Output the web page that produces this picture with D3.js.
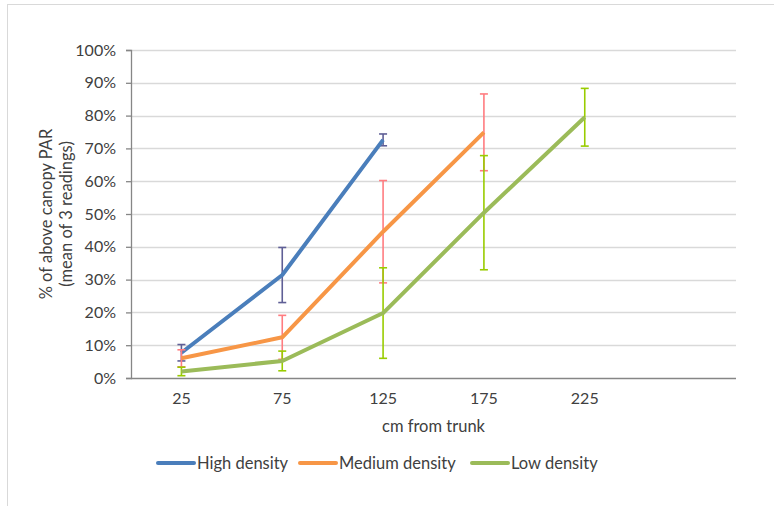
<!DOCTYPE html>
<html>
<head>
<meta charset="utf-8">
<script src="https://cdn.jsdelivr.net/npm/d3@7"></script>
<style>
  body { margin: 0; background: #fff; }
  svg text { font-family: Lato, "Open Sans", sans-serif; fill: #404040; }
</style>
</head>
<body>
<svg id="chart" width="774" height="506"></svg>
<script>
// Chart values (percent)
const categories = ['25', '75', '125', '175', '225', '']
const seriesNames = ['High density', 'Medium density', 'Low density']
const highValues = [7.7, 31.4, 72.6]
const highErrors = [2.5, 8.4, 1.8]
const mediumValues = [6.0, 12.4, 44.6, 74.9]
const mediumErrors = [2.6, 6.7, 15.6, 11.7]
const lowValues = [2.0, 5.2, 19.8, 50.4, 79.5]
const lowErrors = [1.3, 3.0, 13.8, 17.4, 8.8]
const yTicks = [0, 10, 20, 30, 40, 50, 60, 70, 80, 90, 100]

const lineColors = ['#4a7ebb', '#f79646', '#9bbb59']
const errorColors = ['#5f5f96', '#ff7c80', '#99cc00']

const margin = { top: 50, left: 131, right: 38, bottom: 128 }
const width = 774 - margin.left - margin.right
const height = 506 - margin.top - margin.bottom

const svg = d3.select('#chart')

// chart area border (only the top and left edges fall inside the picture)
svg.append('rect')
  .attr('x', 7.5).attr('y', 4.5)
  .attr('width', 900).attr('height', 700)
  .attr('fill', 'none').attr('stroke', '#d9d9d9')

const g = svg.append('g')
  .attr('transform', 'translate(' + margin.left + ',' + margin.top + ')')

const xScale = d3.scaleBand().domain(categories).range([0, width])
const yScale = d3.scaleLinear().domain([0, 100]).range([height, 0])

// horizontal gridlines
g.append('g').selectAll('line')
  .data(yTicks.slice(1))
  .enter().append('line')
  .attr('x1', 0).attr('x2', width)
  .attr('y1', (d) => Math.round(yScale(d)) + 0.5)
  .attr('y2', (d) => Math.round(yScale(d)) + 0.5)
  .attr('stroke', '#d9d9d9').attr('stroke-width', 1.3)

// y axis
const yAxis = g.append('g').attr('class', 'y axis')
  .call(d3.axisLeft(yScale).tickValues(yTicks).tickSize(5).tickPadding(10)
    .tickFormat((d) => d + '%'))
yAxis.selectAll('text').style('font-size', '16px')

// x axis
const xAxis = g.append('g').attr('class', 'x axis')
  .attr('transform', 'translate(0,' + height + ')')
  .call(d3.axisBottom(xScale).tickSize(0).tickPadding(15))
xAxis.selectAll('text').style('font-size', '16px')

g.selectAll('.axis path, .axis line').attr('stroke', '#868686').attr('stroke-width', 1.3)
g.select('.x.axis .domain').attr('d', 'M0,0.5H' + width)

// axis titles
svg.append('text')
  .attr('x', margin.left + width / 2).attr('y', 432)
  .attr('text-anchor', 'middle')
  .style('font-size', '16.5px')
  .text('cm from trunk')

const yTitle = svg.append('text')
  .attr('transform', 'translate(52,' + (margin.top + height / 2) + ') rotate(-90)')
  .attr('text-anchor', 'middle')
  .style('font-size', '16.5px')
yTitle.append('tspan').attr('x', 0).attr('dy', 0).text('% of above canopy PAR')
yTitle.append('tspan').attr('x', 0).attr('dy', 20).text('(mean of 3 readings)')

// series with error bars
const series = [
  { values: highValues, errors: highErrors },
  { values: mediumValues, errors: mediumErrors },
  { values: lowValues, errors: lowErrors }
]

const xPos = (i) => xScale(categories[i]) + xScale.bandwidth() / 2
const line = d3.line()
  .x((d, i) => xPos(i))
  .y((d) => yScale(d))

series.forEach((s, k) => {
  const bars = g.append('g').attr('class', 'errors')
    .selectAll('g')
    .data(s.values)
    .enter().append('g')
    .attr('stroke', errorColors[k]).attr('stroke-width', 1.6)

  bars.append('line')
    .attr('x1', (d, i) => xPos(i)).attr('x2', (d, i) => xPos(i))
    .attr('y1', (d, i) => yScale(d + s.errors[i]))
    .attr('y2', (d, i) => yScale(d - s.errors[i]))
  bars.append('line')
    .attr('x1', (d, i) => xPos(i) - 4).attr('x2', (d, i) => xPos(i) + 4)
    .attr('y1', (d, i) => yScale(d + s.errors[i]))
    .attr('y2', (d, i) => yScale(d + s.errors[i]))
  bars.append('line')
    .attr('x1', (d, i) => xPos(i) - 4).attr('x2', (d, i) => xPos(i) + 4)
    .attr('y1', (d, i) => yScale(d - s.errors[i]))
    .attr('y2', (d, i) => yScale(d - s.errors[i]))

  g.append('path')
    .datum(s.values)
    .attr('d', line)
    .attr('fill', 'none')
    .attr('stroke', lineColors[k])
    .attr('stroke-width', 4)
    .attr('stroke-linejoin', 'round')
})

// legend
const legendX = [158, 300, 472]
const legend = svg.append('g').selectAll('g')
  .data(seriesNames)
  .enter().append('g')
  .attr('transform', (d, i) => 'translate(' + legendX[i] + ',463)')

legend.append('line')
  .attr('x1', 0).attr('x2', 36)
  .attr('stroke', (d, i) => lineColors[i])
  .attr('stroke-width', 4)
  .attr('stroke-linecap', 'round')

legend.append('text')
  .attr('x', 39).attr('y', 6)
  .style('font-size', '16.5px')
  .text((d) => d)
</script>
</body>
</html>
